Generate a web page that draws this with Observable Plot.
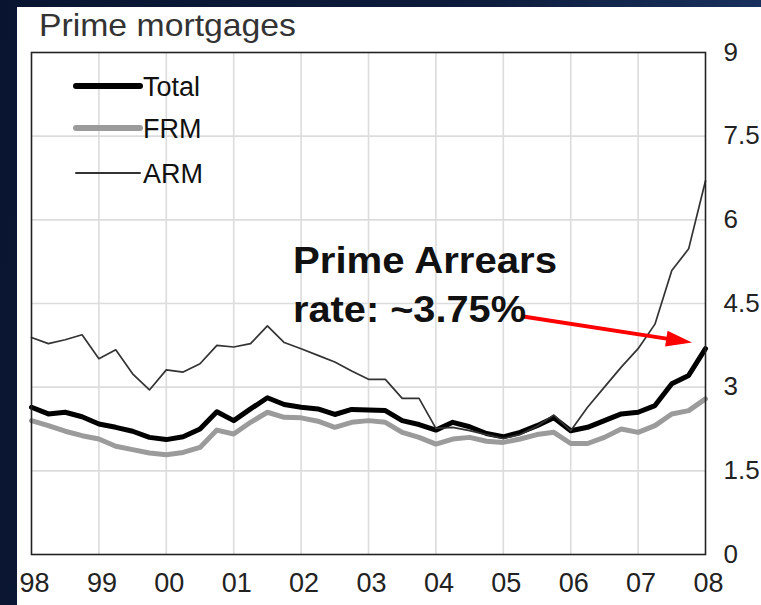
<!DOCTYPE html>
<html><head><meta charset="utf-8">
<script src="https://cdn.jsdelivr.net/npm/d3@7"></script>
<script src="https://cdn.jsdelivr.net/npm/@observablehq/plot@0.6"></script>
<style>
html,body{margin:0;padding:0;width:761px;height:605px;overflow:hidden;}
body{position:relative;background:linear-gradient(100deg,#091530 0%,#0d1c3c 55%,#1d3869 100%);font-family:"Liberation Sans",Arial,sans-serif;}
#panel{position:absolute;left:17px;top:7px;right:0;bottom:0;background:#fff;}
#chart{position:absolute;left:0;top:0;}
#overlay{position:absolute;left:0;top:0;pointer-events:none;}
</style>
</head><body>
<div id="panel"></div>
<div id="chart"></div>
<svg id="overlay" width="761" height="605" font-family="Liberation Sans, Arial, sans-serif"></svg>
<script>
// ---- data (quarterly, 1998Q1 .. 2008Q1), % of loans in arrears ----
const startYear = 1998;
const totalRate = [2.64,2.52,2.55,2.47, 2.34,2.28,2.21,2.10, 2.06,2.11,2.25,2.56, 2.40,2.61,2.81,2.69,
  2.64,2.61,2.51,2.60, 2.59,2.58,2.40,2.33, 2.23,2.37,2.29,2.17, 2.11,2.19,2.31,2.45,
  2.22,2.28,2.40,2.52, 2.55,2.67,3.06,3.21, 3.69];
const frmRate = [2.40,2.31,2.21,2.13, 2.07,1.94,1.88,1.82, 1.79,1.83,1.92,2.23, 2.16,2.37,2.55,2.46,
  2.45,2.39,2.28,2.37, 2.40,2.37,2.19,2.10, 1.98,2.07,2.10,2.03, 2.01,2.07,2.15,2.19,
  1.99,1.99,2.10,2.25, 2.19,2.31,2.52,2.58, 2.79];
const armRate = [3.89,3.78,3.85,3.94, 3.51,3.67,3.24,2.95, 3.31,3.27,3.42,3.75, 3.72,3.78,4.10,3.80,
  3.69,3.57,3.45,3.29, 3.14,3.14,2.80,2.80, 2.26,2.28,2.22,2.15, 2.08,2.15,2.30,2.50,
  2.22,2.64,3.00,3.36, 3.69,4.13,5.09,5.48, 6.70];
const seriesNames = ["Total","FRM","ARM"];
const yearTicks = [1998,1999,2000,2001,2002,2003,2004,2005,2006,2007,2008];
const yearLabels = ["98","99","00","01","02","03","04","05","06","07","08"];
const yTicks = [0,1.5,3,4.5,6,7.5,9];
const yLabels = ["0","1.5","3","4.5","6","7.5","9"];
const titleText = "Prime mortgages";
const noteLines = ["Prime Arrears","rate: ~3.75%"];
const arrowFrom = {x: 2005.27, y: 4.27};
const arrowTo = {x: 2007.80, y: 3.80};

// ---- build table ----
const rows = totalRate.map((v,i)=>({t: startYear + i/4, total: v, frm: frmRate[i], arm: armRate[i]}));

const headAngle = Math.atan2(26, 170), headLen = 26, headHalf = 8;
const headSymbol = {draw(ctx){
  const c = Math.cos(headAngle), s = Math.sin(headAngle);
  ctx.moveTo(0,0);
  ctx.lineTo(-headLen*c - headHalf*s, -headLen*s + headHalf*c);
  ctx.lineTo(-headLen*c + headHalf*s, -headLen*s - headHalf*c);
  ctx.closePath();
}};
const k = 0.86;
const link = [{x1: arrowFrom.x, y1: arrowFrom.y, x2: arrowFrom.x + k*(arrowTo.x-arrowFrom.x), y2: arrowFrom.y + k*(arrowTo.y-arrowFrom.y)}];

const chart = Plot.plot({
  width: 761, height: 605,
  marginLeft: 31, marginRight: 56, marginTop: 52, marginBottom: 51,
  style: {background: "transparent", fontFamily: "Liberation Sans, Arial, sans-serif", fontSize: "27px", color: "#222", overflow: "visible"},
  x: {domain: [1998, 2008]},
  y: {domain: [0, 9]},
  marks: [
    Plot.gridX(yearTicks.slice(1, -1), {stroke: "#dcdcdc", strokeOpacity: 1, strokeWidth: 1.6}),
    Plot.gridY(yTicks.slice(1, -1), {stroke: "#dcdcdc", strokeOpacity: 1, strokeWidth: 1.6}),
    Plot.line(rows, {x: "t", y: "frm", stroke: "#9b9b9b", strokeWidth: 5, strokeLinejoin: "round"}),
    Plot.line(rows, {x: "t", y: "total", stroke: "#000", strokeWidth: 5, strokeLinejoin: "round"}),
    Plot.line(rows, {x: "t", y: "arm", stroke: "#333", strokeWidth: 1.7}),
    Plot.frame({stroke: "#222", strokeWidth: 1.6}),
    Plot.axisX(yearTicks, {tickSize: 0, tickPadding: 18, tickFormat: d => yearLabels[yearTicks.indexOf(d)], label: null, fill: "#222", dx: 3}),
    Plot.axisY(yTicks, {anchor: "right", tickSize: 0, tickPadding: 18, tickFormat: d => yLabels[yTicks.indexOf(d)], label: null, fill: "#222", fontSize: 26}),
    Plot.link(link, {x1: "x1", y1: "y1", x2: "x2", y2: "y2", stroke: "#ff0000", strokeWidth: 4}),
    Plot.dot([arrowTo], {x: "x", y: "y", symbol: headSymbol, r: 10, fill: "#ff0000", stroke: "none"})
  ]
});
document.getElementById("chart").appendChild(chart);

// ---- overlay: title, legend, annotation ----
const ov = d3.select("#overlay");
ov.append("text").attr("x", 39).attr("y", 36).attr("font-size", 32).attr("fill", "#333")
  .attr("textLength", 257).attr("lengthAdjust", "spacingAndGlyphs").text(titleText);
const legendStyle = [
  {stroke: "#000", w: 6, y: 86},
  {stroke: "#9b9b9b", w: 6, y: 128},
  {stroke: "#333", w: 2, y: 173}
];
seriesNames.forEach((name, i) => {
  const s = legendStyle[i];
  ov.append("line").attr("x1", 76).attr("x2", 140).attr("y1", s.y).attr("y2", s.y)
    .attr("stroke", s.stroke).attr("stroke-width", s.w).attr("stroke-linecap", "round");
  ov.append("text").attr("x", 143).attr("y", s.y + 10).attr("font-size", 27).attr("fill", "#111").text(name);
});
const noteWidths = [264, 233];
noteLines.forEach((t, i) => {
  ov.append("text").attr("x", 293).attr("y", 273 + i*49).attr("font-size", 37).attr("font-weight", "bold").attr("fill", "#111")
    .attr("textLength", noteWidths[i]).attr("lengthAdjust", "spacingAndGlyphs").text(t);
});
</script>
</body></html>
